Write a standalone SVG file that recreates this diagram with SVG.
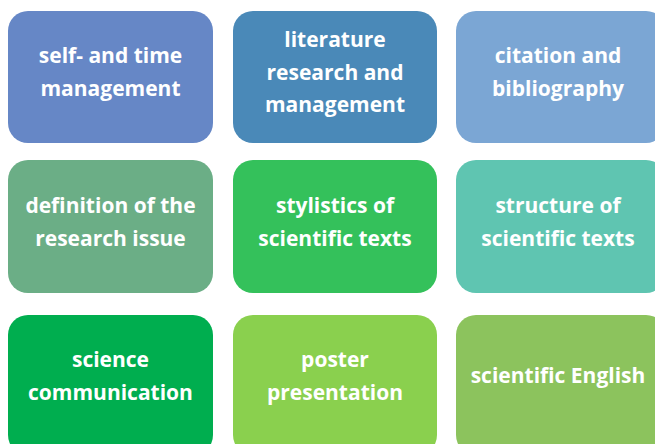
<svg xmlns="http://www.w3.org/2000/svg" width="655" height="444" viewBox="0 0 655 444">
<style>
.box{stroke:none}
.t{font-family:"Open Sans","Liberation Sans",sans-serif;font-weight:bold;font-size:21px;fill:#ffffff;text-anchor:middle}
</style>
<rect width="655" height="444" fill="#ffffff"/>
<g id="n1"><rect class="box" x="8" y="11" width="205" height="132" rx="20" fill="#6687C6"/>
<text class="t" x="110.5" y="63">self- and time</text><text class="t" x="110.5" y="96">management</text></g>
<g id="n2"><rect class="box" x="233" y="11" width="204" height="132" rx="20" fill="#4A89B8"/>
<text class="t" x="335" y="47">literature</text><text class="t" x="335" y="80">research and</text><text class="t" x="335" y="112">management</text></g>
<g id="n3"><rect class="box" x="456" y="11" width="210" height="132" rx="20" fill="#7BA6D4"/>
<text class="t" x="558" y="63">citation and</text><text class="t" x="558" y="96">bibliography</text></g>
<g id="n4"><rect class="box" x="8" y="160" width="205" height="133" rx="20" fill="#6BAE86"/>
<text class="t" x="110.5" y="213">definition of the</text><text class="t" x="110.5" y="246">research issue</text></g>
<g id="n5"><rect class="box" x="233" y="160" width="204" height="133" rx="20" fill="#34C15B"/>
<text class="t" x="335" y="213">stylistics of</text><text class="t" x="335" y="246">scientific texts</text></g>
<g id="n6"><rect class="box" x="456" y="160" width="210" height="133" rx="20" fill="#5FC5B1"/>
<text class="t" x="558" y="213">structure of</text><text class="t" x="558" y="246">scientific texts</text></g>
<g id="n7"><rect class="box" x="8" y="315" width="205" height="140" rx="20" fill="#00AE4F"/>
<text class="t" x="110.5" y="367">science</text><text class="t" x="110.5" y="400">communication</text></g>
<g id="n8"><rect class="box" x="233" y="315" width="204" height="140" rx="20" fill="#8AD04E"/>
<text class="t" x="335" y="367">poster</text><text class="t" x="335" y="400">presentation</text></g>
<g id="n9"><rect class="box" x="456" y="315" width="210" height="140" rx="20" fill="#8CC35D"/>
<text class="t" x="558" y="383">scientific English</text></g>
<g id="connectors"></g>
</svg>
